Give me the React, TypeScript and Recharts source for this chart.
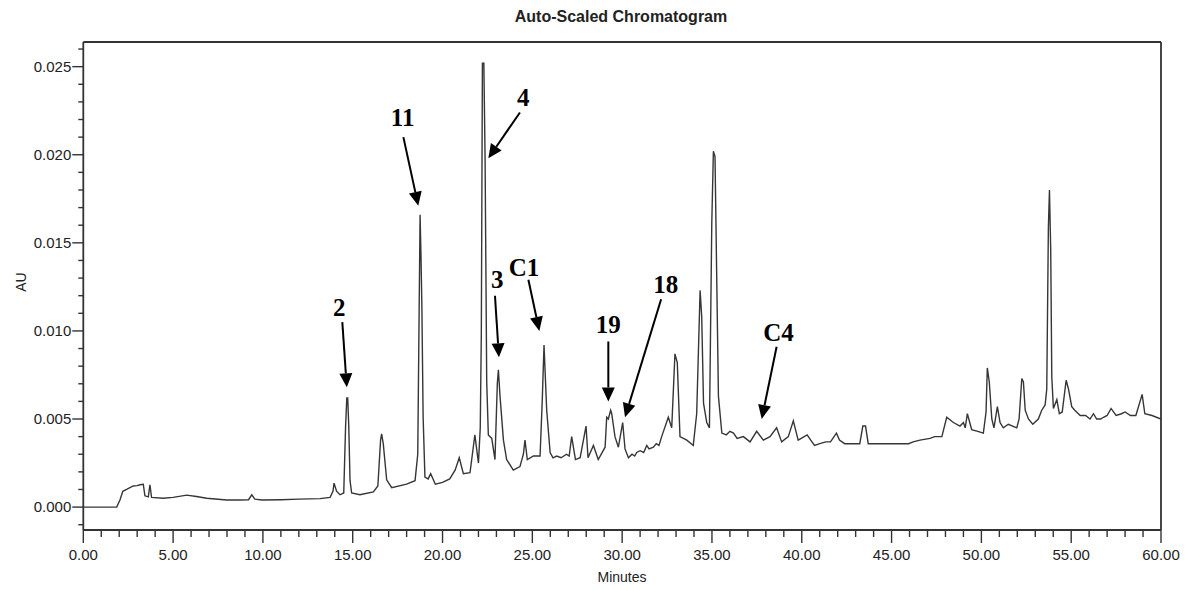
import React from 'react';
import { LineChart, Line, XAxis, YAxis, ReferenceLine, ReferenceDot, Customized } from 'recharts';

// Retention time (minutes) and absorbance (AU)
const retentionTimes = [
  0.0, 0.5, 1.0, 1.86, 2.04, 2.2, 2.41, 2.78, 3.0, 3.16, 3.34, 3.43, 3.62, 3.71, 3.8, 4.45, 5.0, 5.76, 6.3, 6.87,
  7.98, 8.7, 9.2, 9.38, 9.55, 9.95, 11.0, 12.0, 13.18, 13.74, 13.9, 13.96, 14.1, 14.29, 14.5, 14.6, 14.67, 14.72, 14.78, 14.85,
  14.94, 15.4, 16.15, 16.4, 16.55, 16.61, 16.7, 16.89, 17.17, 18.0, 18.47, 18.62, 18.7, 18.75, 18.8, 18.85, 18.92, 19.02, 19.2, 19.34,
  19.6, 20.0, 20.4, 20.7, 20.93, 21.16, 21.53, 21.8, 22.0, 22.1, 22.16, 22.22, 22.3, 22.37, 22.46, 22.55, 22.74, 22.92, 23.05, 23.11,
  23.2, 23.39, 23.57, 23.94, 24.31, 24.5, 24.59, 24.72, 25.06, 25.43, 25.55, 25.65, 25.8, 25.99, 26.15, 26.36, 26.6, 26.9, 27.05, 27.19,
  27.4, 27.66, 27.99, 28.1, 28.4, 28.67, 29.05, 29.14, 29.23, 29.36, 29.42, 29.6, 29.79, 30.03, 30.16, 30.35, 30.55, 30.7, 30.81, 31.0,
  31.2, 31.37, 31.5, 31.74, 31.9, 32.05, 32.2, 32.57, 32.76, 32.94, 33.07, 33.22, 33.6, 33.96, 34.15, 34.34, 34.43, 34.53, 34.71, 34.86,
  34.99, 35.08, 35.17, 35.27, 35.36, 35.55, 35.8, 36.0, 36.2, 36.4, 36.75, 37.12, 37.49, 37.86, 38.23, 38.6, 38.88, 39.25, 39.53, 39.8,
  40.3, 40.5, 40.71, 41.0, 41.34, 41.6, 41.93, 42.1, 42.39, 42.8, 43.23, 43.4, 43.55, 43.7, 44.4, 45.1, 45.95, 46.2, 46.58, 47.14,
  47.4, 47.8, 48.07, 48.44, 48.81, 49.0, 49.1, 49.22, 49.46, 49.8, 50.11, 50.26, 50.33, 50.44, 50.58, 50.7, 50.89, 51.04, 51.22, 51.5,
  51.97, 52.1, 52.25, 52.34, 52.44, 52.62, 52.86, 53.17, 53.36, 53.55, 53.64, 53.73, 53.79, 53.86, 53.92, 54.01, 54.2, 54.34, 54.5, 54.72,
  54.85, 55.03, 55.2, 55.5, 55.8, 56.05, 56.24, 56.42, 56.64, 56.8, 57.0, 57.22, 57.5, 57.8, 58.0, 58.3, 58.6, 58.95, 59.1, 59.5,
  60.0,
];

const absorbance = [
  0.0, 0.0, 0.0, 0.0, 0.0004, 0.0009, 0.001, 0.0012, 0.00122, 0.00127, 0.0013, 0.00064, 0.00058, 0.00127, 0.00055, 0.0005, 0.00055, 0.00068, 0.0006, 0.0005,
  0.0004, 0.0004, 0.00042, 0.0007, 0.00045, 0.0004, 0.00042, 0.00045, 0.00048, 0.00055, 0.0009, 0.00136, 0.0009, 0.0007, 0.0008, 0.0045, 0.0062, 0.0062, 0.0046, 0.0015,
  0.0008, 0.0007, 0.00086, 0.0012, 0.0038, 0.00416, 0.0036, 0.00155, 0.0011, 0.0013, 0.0015, 0.003, 0.0114, 0.0166, 0.0143, 0.0114, 0.0051, 0.0017, 0.0016, 0.0019,
  0.0013, 0.0014, 0.0016, 0.0021, 0.0028, 0.0019, 0.00195, 0.0041, 0.0025, 0.0045, 0.0099, 0.0252, 0.0252, 0.0197, 0.0071, 0.0041, 0.0039, 0.0027, 0.007, 0.0078,
  0.0063, 0.0038, 0.0027, 0.0021, 0.0023, 0.003, 0.0038, 0.0027, 0.0029, 0.0029, 0.006, 0.0092, 0.0055, 0.0031, 0.0028, 0.0029, 0.0028, 0.003, 0.0029, 0.004,
  0.0027, 0.0028, 0.0046, 0.0028, 0.0035, 0.0027, 0.0034, 0.0051, 0.005, 0.0055, 0.0053, 0.004, 0.0034, 0.0048, 0.0033, 0.0028, 0.003, 0.0029, 0.0031, 0.0032,
  0.0031, 0.0035, 0.0033, 0.0034, 0.0036, 0.0035, 0.004, 0.0051, 0.0045, 0.0087, 0.0082, 0.004, 0.0038, 0.0035, 0.0053, 0.0123, 0.0108, 0.0059, 0.0048, 0.0045,
  0.0161, 0.0202, 0.0199, 0.0127, 0.0063, 0.0042, 0.0041, 0.0043, 0.0042, 0.0039, 0.004, 0.0037, 0.0043, 0.0038, 0.004, 0.0045, 0.0037, 0.004, 0.0049, 0.0038,
  0.0041, 0.0038, 0.0035, 0.0036, 0.0037, 0.0037, 0.0042, 0.0038, 0.0036, 0.0036, 0.0036, 0.0046, 0.0046, 0.0036, 0.0036, 0.0036, 0.0036, 0.0037, 0.0038, 0.0039,
  0.004, 0.004, 0.0051, 0.0048, 0.0046, 0.0048, 0.0045, 0.0053, 0.0044, 0.0043, 0.0042, 0.0054, 0.0079, 0.0071, 0.005, 0.0045, 0.0057, 0.0048, 0.0045, 0.0047,
  0.0045, 0.005, 0.0073, 0.0071, 0.0055, 0.005, 0.0047, 0.005, 0.0055, 0.0058, 0.0067, 0.0159, 0.018, 0.0146, 0.0074, 0.0056, 0.0061, 0.0053, 0.0054, 0.0072,
  0.0067, 0.0057, 0.0055, 0.0052, 0.0052, 0.005, 0.0053, 0.005, 0.005, 0.0051, 0.0052, 0.0056, 0.0052, 0.0053, 0.0054, 0.0052, 0.0052, 0.0064, 0.0053, 0.0052,
  0.005,
];

const xMajorTicks = [0, 5, 10, 15, 20, 25, 30, 35, 40, 45, 50, 55, 60];
const yMajorTicks = [0, 0.005, 0.01, 0.015, 0.02, 0.025];
const xDomain = [0, 60];
const yDomain = [-0.0013, 0.0264];

// Peak annotations: label, text position, arrow start and arrow tip (minutes, AU)
const peakLabels = ['2', '11', '4', '3', 'C1', '19', '18', 'C4'];
const labelTextPos = [
  [14.25, 0.0113], [17.78, 0.0221], [24.5, 0.0232], [23.05, 0.0129], [24.54, 0.0136], [29.23, 0.01035], [32.43, 0.0126], [38.7, 0.0099],
];
const arrowFrom = [
  [14.42, 0.0105], [17.82, 0.021], [24.31, 0.0224], [22.92, 0.012], [24.78, 0.0129], [29.23, 0.0094], [32.17, 0.0118], [38.6, 0.0091],
];
const arrowTo = [
  [14.67, 0.0068], [18.65, 0.0171], [22.55, 0.0198], [23.14, 0.0085], [25.39, 0.01], [29.23, 0.006], [30.16, 0.0051], [37.77, 0.0050],
];

const xMinorTicks = Array.from({ length: 61 }, (_, i) => i);
const yMinorTicks = Array.from({ length: 28 }, (_, i) => Math.round((i - 1) * 1000) / 1000000);

const data = retentionTimes.map((t, i) => ({ min: t, au: absorbance[i] }));

const SANS = '"Liberation Sans", Arial, sans-serif';
const SERIF = '"Liberation Serif", "Times New Roman", serif';
const AXIS = '#333';

const XTick = (props: any) => {
  const { x, y, payload } = props;
  const v = payload.value;
  const major = xMajorTicks.some((m) => Math.abs(m - v) < 1e-9);
  return (
    <g>
      <line x1={x} y1={y} x2={x} y2={y + (major ? 13 : 7)} stroke={AXIS} strokeWidth={1.4} />
      {major && (
        <text x={x} y={y + 30} textAnchor="middle" fontFamily={SANS} fontSize={15} fill="#222">
          {v.toFixed(2)}
        </text>
      )}
    </g>
  );
};

const YTick = (props: any) => {
  const { x, y, payload } = props;
  const v = payload.value;
  const major = yMajorTicks.some((m) => Math.abs(m - v) < 1e-9);
  return (
    <g>
      <line x1={x - (major ? 11 : 5)} y1={y} x2={x} y2={y} stroke={AXIS} strokeWidth={1.4} />
      {major && (
        <text x={x - 12} y={y + 5} textAnchor="end" fontFamily={SANS} fontSize={15} fill="#222">
          {v.toFixed(3)}
        </text>
      )}
    </g>
  );
};

const ArrowShape = (props: any) => {
  const { x1, y1, x2, y2 } = props;
  const dx = x2 - x1;
  const dy = y2 - y1;
  const len = Math.sqrt(dx * dx + dy * dy) || 1;
  const ux = dx / len;
  const uy = dy / len;
  const headLen = 14;
  const headHalf = 6.5;
  const bx = x2 - ux * headLen;
  const by = y2 - uy * headLen;
  const px = -uy;
  const py = ux;
  return (
    <g>
      <line x1={x1} y1={y1} x2={bx} y2={by} stroke="#000" strokeWidth={2} />
      <polygon
        points={`${x2},${y2} ${bx + px * headHalf},${by + py * headHalf} ${bx - px * headHalf},${by - py * headHalf}`}
        fill="#000"
      />
    </g>
  );
};

const makeLabelShape = (text: string) => (props: any) => (
  <text
    x={props.cx}
    y={props.cy + 8}
    textAnchor="middle"
    fontFamily={SERIF}
    fontWeight="bold"
    fontSize={25}
    fill="#000"
  >
    {text}
  </text>
);

const Titles = () => (
  <g>
    <text x={613} y={14} textAnchor="middle" fontFamily={SANS} fontWeight="bold" fontSize={16} fill="#222">
      Auto-Scaled Chromatogram
    </text>
    <text
      x={18}
      y={274}
      textAnchor="middle"
      fontFamily={SANS}
      fontSize={14}
      fill="#222"
      transform="rotate(-90 18 274)"
    >
      AU
    </text>
    <text x={614} y={574} textAnchor="middle" fontFamily={SANS} fontSize={14} fill="#222">
      Minutes
    </text>
  </g>
);

export default function App() {
  return (
    <div style={{ width: 1174, height: 582, background: '#fff' }}>
      <LineChart width={1174} height={582} data={data} margin={{ top: 34, right: 21, left: 0, bottom: 0 }}>
        <XAxis
          type="number"
          dataKey="min"
          domain={xDomain}
          allowDataOverflow
          ticks={xMinorTicks}
          interval={0}
          tickSize={0}
          tickMargin={0}
          tickLine={false}
          tick={XTick}
          height={60}
          axisLine={{ stroke: AXIS, strokeWidth: 1.8 }}
        />
        <YAxis
          type="number"
          domain={yDomain}
          allowDataOverflow
          ticks={yMinorTicks}
          interval={0}
          tickSize={0}
          tickMargin={0}
          tickLine={false}
          tick={YTick}
          width={75.3}
          axisLine={{ stroke: AXIS, strokeWidth: 1.8 }}
        />
        <ReferenceLine y={yDomain[1]} stroke={AXIS} strokeWidth={1.8} ifOverflow="visible" />
        <ReferenceLine x={xDomain[1]} stroke={AXIS} strokeWidth={1.8} ifOverflow="visible" />
        <Line
          type="linear"
          dataKey="au"
          stroke="#363636"
          strokeWidth={1.4}
          dot={false}
          activeDot={false}
          isAnimationActive={false}
        />
        {peakLabels.map((lab, i) => (
          <ReferenceLine
            key={'arrow-' + lab}
            segment={[
              { x: arrowFrom[i][0], y: arrowFrom[i][1] },
              { x: arrowTo[i][0], y: arrowTo[i][1] },
            ]}
            ifOverflow="visible"
            shape={ArrowShape}
          />
        ))}
        {peakLabels.map((lab, i) => (
          <ReferenceDot
            key={'label-' + lab}
            x={labelTextPos[i][0]}
            y={labelTextPos[i][1]}
            r={1}
            ifOverflow="visible"
            shape={makeLabelShape(lab)}
          />
        ))}
        <Customized component={Titles} />
      </LineChart>
    </div>
  );
}
